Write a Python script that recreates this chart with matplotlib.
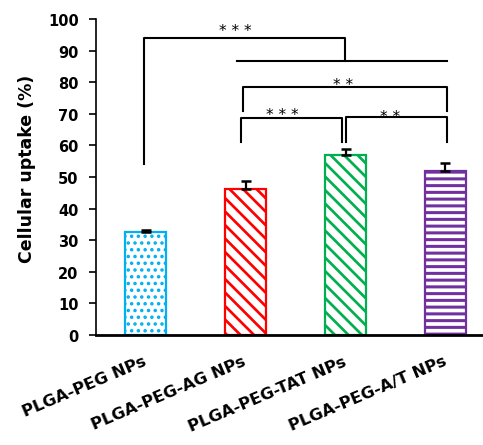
import matplotlib
matplotlib.use("Agg")
import matplotlib.pyplot as plt

categories = ["PLGA-PEG NPs", "PLGA-PEG-AG NPs", "PLGA-PEG-TAT NPs", "PLGA-PEG-A/T NPs"]
values = [32.7, 46.3, 57.0, 52.0]
errors = [0.6, 2.4, 1.9, 2.3]
colors = ["#00B0F0", "#FF0000", "#00B050", "#7030A0"]
hatches = ["..", "\\\\", "\\\\", "--"]
yticks = [0, 10, 20, 30, 40, 50, 60, 70, 80, 90, 100]

# significance brackets: (x_left, x_right, y_top, y_left_end, y_right_end)
brackets = [
    (-0.015, 1.995, 94.1, 54.0, 86.8),
    (0.972, 3.012, 78.6, 71.0, 71.0),
    (0.955, 1.965, 68.7, 61.1, 61.1),
    (2.005, 3.012, 69.1, 61.1, 61.1),
]
hline = (0.915, 3.012, 86.8)
stars = [(0.895, 94.8, "* * *"), (1.975, 77.7, "* *"), (1.365, 68.4, "* * *"), (2.445, 67.8, "* *")]

DPI = 81
k = 100 / DPI  # keep sizes as they would be at 100 dpi

plt.rcParams['font.family'] = ['DejaVu Sans']
fig = plt.figure(figsize=(483 / DPI, 446 / DPI), dpi=DPI)
ax = fig.add_axes([96/483, 110/446, 387/483, 316/446])

x = list(range(len(categories)))
hlw = [1.9, 2.4, 2.4, 2.7]
for i in x:
    plt.rcParams['hatch.linewidth'] = hlw[i]
    ax.bar(i, values[i], width=0.41, facecolor="white", edgecolor=colors[i],
           hatch=hatches[i], linewidth=1.6 * k, zorder=2)
    ax.errorbar(i, values[i], yerr=[[0], [errors[i]]], fmt='none', ecolor='black',
                elinewidth=1.6 * k, capsize=3.5 * k, capthick=1.8 * k, zorder=3)

for (xl, xr, yt, yl, yr) in brackets:
    ax.plot([xl, xl, xr, xr], [yl, yt, yt, yr], color='black', lw=1.5 * k, zorder=4, clip_on=False)
ax.plot([hline[0], hline[1]], [hline[2], hline[2]], color='black', lw=1.5 * k, zorder=4, clip_on=False)
for (xs, ys, s) in stars:
    ax.text(xs, ys, s, ha='center', va='baseline', fontsize=11 * k, color='black')

ax.set_xlim(-0.495, 3.375)
ax.set_ylim(0, 100)
ax.set_yticks(yticks)
ax.set_yticklabels([str(t) for t in yticks], fontsize=10.5 * k, fontweight='bold')
ax.set_xticks(x)
ax.set_xticklabels(categories, rotation=23, ha='right', va='center', rotation_mode='anchor',
                   fontsize=11.8 * k, fontweight='bold')
ax.tick_params(axis='x', length=0, pad=18 * k)
ax.tick_params(axis='y', direction='out', length=5 * k, width=1.2 * k, pad=7.5 * k)
ax.set_ylabel("Cellular uptake (%)", fontsize=12.5 * k, fontweight='bold')
ax.yaxis.set_label_coords(-0.155, 0.53)

ax.spines['top'].set_visible(False)
ax.spines['right'].set_visible(False)
ax.spines['left'].set_linewidth(1.2 * k)
ax.spines['bottom'].set_linewidth(2.0 * k)

fig.savefig("out.png", dpi=DPI)
